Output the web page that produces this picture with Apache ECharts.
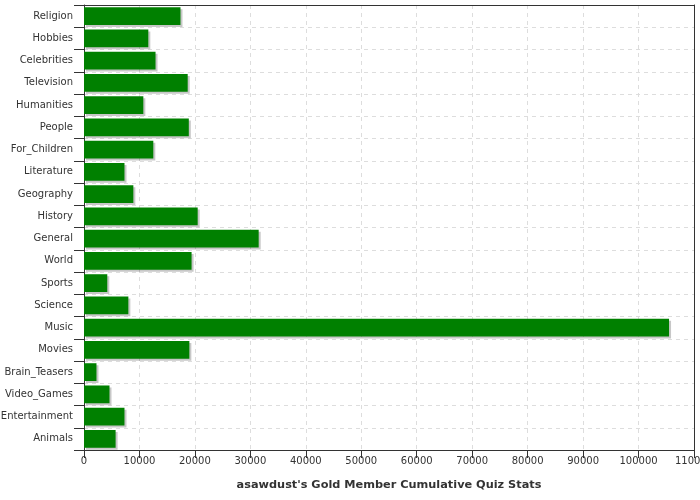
<!DOCTYPE html>
<html><head><meta charset="utf-8">
<script src="https://cdn.jsdelivr.net/npm/echarts@6/dist/echarts.min.js"></script>
<style>html,body{margin:0;padding:0;background:#fff}#c{width:700px;height:500px}</style>
</head><body><div id="c"></div>
<script>
const categories = ["Religion","Hobbies","Celebrities","Television","Humanities","People","For_Children","Literature","Geography","History","General","World","Sports","Science","Music","Movies","Brain_Teasers","Video_Games","Entertainment","Animals"];
const values = [17400,11600,12900,18700,10700,18900,12500,7300,8900,20500,31500,19400,4200,8000,105500,19000,2250,4600,7300,5700];
const xTitle = "asawdust's Gold Member Cumulative Quiz Stats";

const chart = echarts.init(document.getElementById('c'), null, {renderer:'canvas'});
const font = 'DejaVu Sans';
chart.setOption({
  animation:false,
  grid:{left:84,right:6,top:5,bottom:50,outerBoundsMode:'none',containLabel:false,show:false},
  xAxis:[{type:'value',min:0,max:110000,interval:10000,z:0,
    name:xTitle,nameLocation:'middle',nameGap:30,
    nameTextStyle:{fontFamily:font,fontSize:11.3,fontWeight:'bold',color:'#333'},
    axisLine:{show:true,lineStyle:{color:'#333'}},
    axisTick:{show:true,length:8,lineStyle:{color:'#333'}},
    axisLabel:{fontFamily:font,fontSize:10,color:'#333',margin:6,formatter:v=>String(v)},
    splitLine:{show:true,lineStyle:{color:'#ddd',type:[4,4]}}},
    {type:'value',position:'top',min:0,max:110000,interval:10000,z:5,
    axisLine:{show:true,lineStyle:{color:'#333'}},axisTick:{show:false},axisLabel:{show:false},splitLine:{show:false}}],
  yAxis:[{type:'category',data:categories,inverse:true,z:0,
    axisLine:{show:true,lineStyle:{color:'#333'}},
    axisTick:{show:true,length:10,lineStyle:{color:'#333'}},
    axisLabel:{fontFamily:font,fontSize:10,color:'#333',margin:11},
    splitLine:{show:true,lineStyle:{color:'#ddd',type:[4,4]}}},
    {type:'category',data:categories,inverse:true,position:'right',z:5,
    axisLine:{show:true,onZero:false,lineStyle:{color:'#333'}},axisTick:{show:false},axisLabel:{show:false},splitLine:{show:false}}],
  series:[{type:'bar',data:values,barCategoryGap:'20%',xAxisIndex:0,yAxisIndex:0,
    itemStyle:{color:'#008000',shadowColor:'rgba(0,0,0,0.22)',shadowOffsetX:2,shadowOffsetY:2,shadowBlur:0}}]
});
</script></body></html>
